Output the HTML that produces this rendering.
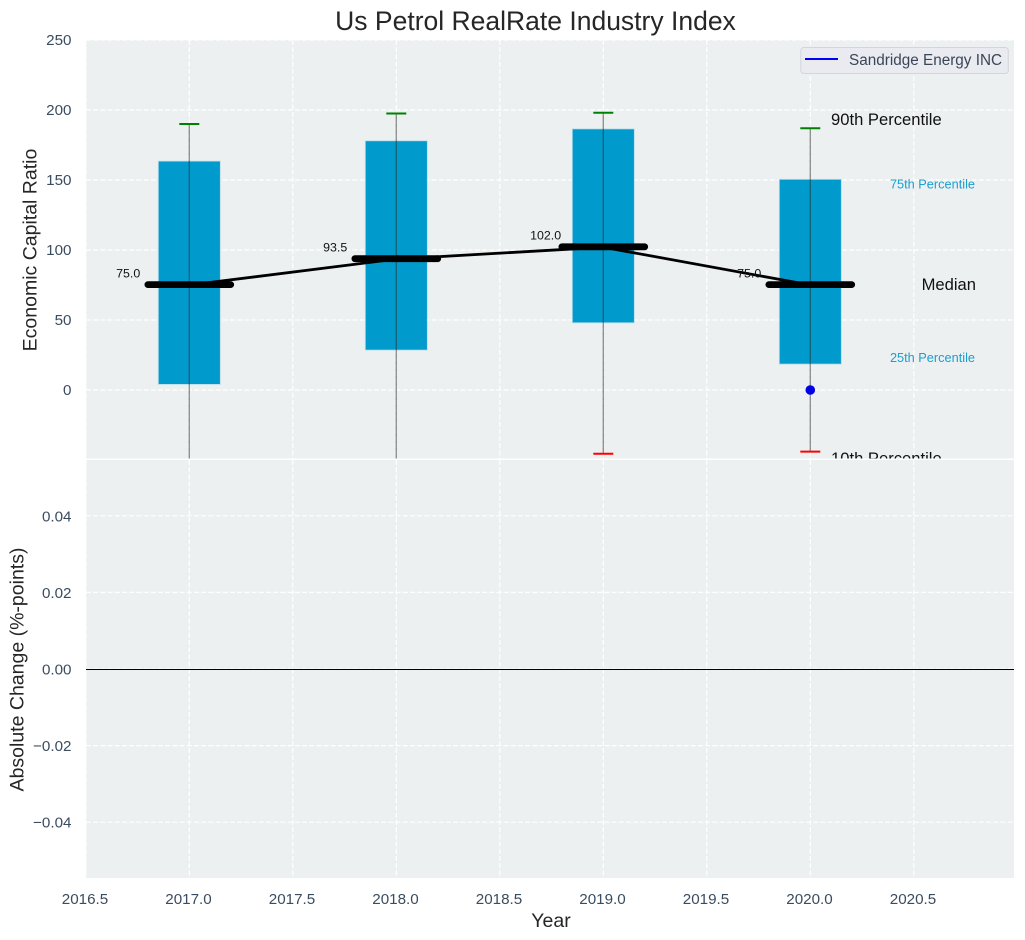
<!DOCTYPE html>
<html lang="en">
<head>
<meta charset="utf-8">
<title>Us Petrol RealRate Industry Index</title>
<style>
html,body{margin:0;padding:0;background:#fff;}
svg{display:block;font-family:"Liberation Sans",Arial,sans-serif;}
</style>
</head>
<body>
<svg id="chart" xmlns="http://www.w3.org/2000/svg" width="1025" height="940" viewBox="0 0 1025 940"></svg>
<script>
const years = [2017, 2018, 2019, 2020];
const p90 = [190, 197.5, 198, 187];
const p75 = [163.5, 178, 186.5, 150.5];
const medians = [75, 93.5, 102, 75];
const p25 = [4, 28.5, 48, 18.5];
const p10 = [-75, -70, -45.5, -44];
const companyYears = [2020];
const companyValues = [0];
const xTicks = [2016.5, 2017, 2017.5, 2018, 2018.5, 2019, 2019.5, 2020, 2020.5];
const xTickLabels = ['2016.5', '2017.0', '2017.5', '2018.0', '2018.5', '2019.0', '2019.5', '2020.0', '2020.5'];
const topYTicks = [250, 200, 150, 100, 50, 0];
const topYTickLabels = ['250', '200', '150', '100', '50', '0'];
const bottomYTicks = [0.04, 0.02, 0, -0.02, -0.04];
const bottomYTickLabels = ['0.04', '0.02', '0.00', '\u22120.02', '\u22120.04'];

const NS = 'http://www.w3.org/2000/svg';
const svg = document.getElementById('chart');
const AX = { left: 86, right: 1014, top1: 40, bottom1: 458.5, top2: 460, bottom2: 878 };
const x = v => 189.3 + (v - 2017) * 207;
const yTop = v => 390 - v * 1.4;
const yBottom = v => 669 - v * 3830;

function make(tag, attrs, parent, text) {
  const el = document.createElementNS(NS, tag);
  for (const k in attrs) el.setAttribute(k, attrs[k]);
  if (text !== undefined) el.textContent = text;
  (parent || svg).appendChild(el);
  return el;
}

const defs = make('defs', {});
const clip = make('clipPath', { id: 'top-clip' }, defs);
make('rect', { x: AX.left, y: AX.top1, width: AX.right - AX.left, height: AX.bottom1 - AX.top1 }, clip);

const title = make('text', { x: 535.5, y: 30, 'text-anchor': 'middle', 'font-size': 26.5, fill: '#262626' }, svg, 'Us Petrol RealRate Industry Index');



/* top panel */
const topBg = make('rect', { x: AX.left, y: AX.top1, width: AX.right - AX.left, height: AX.bottom1 - AX.top1, fill: '#ecf0f1' });



const topGrid = make('g', { stroke: '#fff', 'stroke-width': 1.2, 'stroke-dasharray': '5 2.2' });


xTicks.forEach(t => make('line', { x1: x(t), x2: x(t), y1: AX.top1, y2: AX.bottom1 }, topGrid));
topYTicks.forEach(t => make('line', { x1: AX.left, x2: AX.right, y1: yTop(t), y2: yTop(t) }, topGrid));

const plot = make('g', { 'clip-path': 'url(#top-clip)' });



years.forEach((yr, i) => {
  const box = make('rect', {
    x: x(yr) - 31, y: yTop(p75[i]), width: 62, height: yTop(p25[i]) - yTop(p75[i]),
    fill: '#009acd', stroke: '#b9dcea', 'stroke-width': 0.8
  }, plot);
  
  
});

const trend = make('polyline', {
  points: years.map((yr, i) => x(yr) + ',' + yTop(medians[i])).join(' '),
  fill: 'none', stroke: '#000', 'stroke-width': 2.8
}, plot);



years.forEach((yr, i) => {
  const whisker = make('line', {
    x1: x(yr), x2: x(yr), y1: yTop(p90[i]), y2: yTop(p10[i]),
    stroke: '#2c2c2c', 'stroke-opacity': 0.5, 'stroke-width': 1.4
  }, plot);
  
  

  const capHigh = make('line', {
    x1: x(yr) - 10, x2: x(yr) + 10, y1: yTop(p90[i]), y2: yTop(p90[i]),
    stroke: '#008000', 'stroke-width': 2
  }, plot);
  
  

  const capLow = make('line', {
    x1: x(yr) - 10, x2: x(yr) + 10, y1: yTop(p10[i]), y2: yTop(p10[i]),
    stroke: '#ff0000', 'stroke-width': 2
  }, plot);
  
  

  const median = make('line', {
    x1: x(yr) - 41.4, x2: x(yr) + 41.4, y1: yTop(medians[i]) - 0.4, y2: yTop(medians[i]) - 0.4,
    stroke: '#000', 'stroke-width': 6.8, 'stroke-linecap': 'round'
  }, plot);
  
  

  const label = make('text', {
    x: x(yr) - 73.2, y: yTop(medians[i]) - 7.5, 'font-size': 12.4, fill: '#111'
  }, plot, medians[i].toFixed(1));
  
  
});

companyYears.forEach((yr, i) => {
  const dot = make('circle', { cx: x(yr), cy: yTop(companyValues[i]), r: 4.8, fill: '#0000e6' }, plot);
  
  
});

const n90 = make('text', { x: 831, y: 125, 'font-size': 16.6, fill: '#111' }, plot, '90th Percentile');


const n75 = make('text', { x: 975, y: 188.5, 'text-anchor': 'end', 'font-size': 12.75, fill: '#1a9fcf' }, plot, '75th Percentile');


const nMed = make('text', { x: 976, y: 290, 'text-anchor': 'end', 'font-size': 16.6, fill: '#111' }, plot, 'Median');


const n25 = make('text', { x: 975, y: 362, 'text-anchor': 'end', 'font-size': 12.75, fill: '#1a9fcf' }, plot, '25th Percentile');


const n10 = make('text', { x: 831, y: 464, 'font-size': 16.6, fill: '#111' }, plot, '10th Percentile');



/* legend */
const legend = make('g', {});


make('rect', { x: 800.8, y: 47.5, width: 207.5, height: 26, rx: 3, fill: '#e9ebf0', stroke: '#d3d5da', 'stroke-width': 1 }, legend);
const legendLine = make('line', { x1: 805, x2: 838, y1: 59, y2: 59, stroke: '#0000ff', 'stroke-width': 2 }, legend);


const legendText = make('text', { x: 849, y: 65, 'font-size': 15.3, fill: '#3a4657' }, legend, 'Sandridge Energy INC');



/* top y axis */
const topAxis = make('g', { 'font-size': 15.2, fill: '#3a4c60', 'text-anchor': 'end' });


topYTicks.forEach((t, i) => make('text', { x: 71.5, y: yTop(t) + 5, }, topAxis, topYTickLabels[i]));
const topLabel = make('text', { transform: 'translate(36.5,250) rotate(-90)', 'text-anchor': 'middle', 'font-size': 19.5, fill: '#262626' }, svg, 'Economic Capital Ratio');



/* bottom panel */
const bottomBg = make('rect', { x: AX.left, y: AX.top2, width: AX.right - AX.left, height: AX.bottom2 - AX.top2, fill: '#ecf0f1' });



const bottomGrid = make('g', { stroke: '#fff', 'stroke-width': 1.2, 'stroke-dasharray': '5 2.2' });


xTicks.forEach(t => make('line', { x1: x(t), x2: x(t), y1: AX.top2, y2: AX.bottom2 }, bottomGrid));
bottomYTicks.forEach(t => make('line', { x1: AX.left, x2: AX.right, y1: yBottom(t), y2: yBottom(t) }, bottomGrid));

const zeroLine = make('line', { x1: AX.left, x2: AX.right, y1: yBottom(0) + 0.5, y2: yBottom(0) + 0.5, stroke: '#000', 'stroke-width': 1.1 });



const bottomAxis = make('g', { 'font-size': 15.2, fill: '#3a4c60', 'text-anchor': 'end' });


bottomYTicks.forEach((t, i) => make('text', { x: 71.5, y: yBottom(t) + 5.5 }, bottomAxis, bottomYTickLabels[i]));
const bottomLabel = make('text', { transform: 'translate(23.5,669.5) rotate(-90)', 'text-anchor': 'middle', 'font-size': 19.5, fill: '#262626' }, svg, 'Absolute Change (%-points)');



const xAxis = make('g', { 'font-size': 15.2, fill: '#3a4c60', 'text-anchor': 'middle' });


xTicks.forEach((t, i) => make('text', { x: x(t) - 0.8, y: 904 }, xAxis, xTickLabels[i]));
const xLabel = make('text', { x: 551, y: 927, 'text-anchor': 'middle', 'font-size': 19.5, fill: '#262626' }, svg, 'Year');


</script>
</body>
</html>
